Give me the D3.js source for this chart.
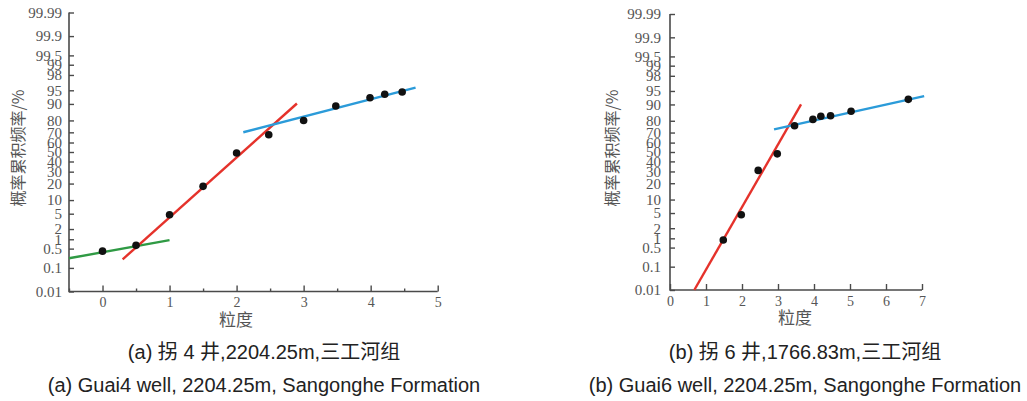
<!DOCTYPE html>
<html>
<head>
<meta charset="utf-8">
<script src="https://cdn.jsdelivr.net/npm/d3@7"></script>
<style>
  body { margin: 0; background: #fff; }
  svg { display: block; }
</style>
</head>
<body>
<div id="chart"></div>
<script>
// probability axis ticks (%)
const probTicks = [0.01, 0.1, 0.5, 1, 2, 5, 10, 20, 30, 40, 50, 60, 70, 80, 90, 95, 98, 99, 99.5, 99.9, 99.99];
const probLabels = ["0.01", "0.1", "0.5", "1", "2", "5", "10", "20", "30", "40", "50", "60", "70", "80", "90", "95", "98", "99", "99.5", "99.9", "99.99"];

// (a) Guai4 well
const grainA = [0, 0.5, 1, 1.5, 2, 2.48, 3, 3.48, 3.99, 4.21, 4.47];
const cumA = [0.41, 0.64, 4.7, 18, 49, 67.7, 80, 89, 92.6, 93.8, 94.5];
const greenA = { x: [-0.5, 1], p: [0.23, 0.94] };
const redA = { x: [0.3, 2.9], p: [0.21, 90.2] };
const blueA = { x: [2.1, 4.67], p: [70.1, 95.7] };
const xTicksA = [0, 1, 2, 3, 4, 5];
const xMinorA = [-0.5, 0.5, 1.5, 2.5, 3.5, 4.5];

// (b) Guai6 well
const grainB = [1.48, 1.98, 2.45, 2.98, 3.46, 3.97, 4.19, 4.46, 5.03, 6.62];
const cumB = [0.89, 4.55, 31, 48, 76, 81, 83.2, 83.6, 86.4, 92.2];
const redB = { x: [0.675, 3.64], p: [0.01, 90] };
const blueB = { x: [2.89, 7.06], p: [72.9, 93.4] };
const xTicksB = [0, 1, 2, 3, 4, 5, 6, 7];

const captionsCn = ["(a) 拐 4 井,2204.25m,三工河组", "(b) 拐 6 井,1766.83m,三工河组"];
const captionsEn = ["(a) Guai4 well, 2204.25m, Sangonghe Formation", "(b) Guai6 well, 2204.25m, Sangonghe Formation"];

// inverse normal CDF (Acklam)
function probit(p) {
  const a = [-3.969683028665376e+01, 2.209460984245205e+02, -2.759285104469687e+02, 1.383577518672690e+02, -3.066479806614716e+01, 2.506628277459239e+00];
  const b = [-5.447609879822406e+01, 1.615858368580409e+02, -1.556989798598866e+02, 6.680131188771972e+01, -1.328068155288572e+01];
  const c = [-7.784894002430293e-03, -3.223964580411365e-01, -2.400758277161838e+00, -2.549732539343734e+00, 4.374664141464968e+00, 2.938163982698783e+00];
  const d = [7.784695709041462e-03, 3.224671290700398e-01, 2.445134137142996e+00, 3.754408661907416e+00];
  const pl = 0.02425;
  if (p < pl) {
    const q = Math.sqrt(-2 * Math.log(p));
    return (((((c[0]*q+c[1])*q+c[2])*q+c[3])*q+c[4])*q+c[5]) / ((((d[0]*q+d[1])*q+d[2])*q+d[3])*q+1);
  }
  if (p > 1 - pl) {
    const q = Math.sqrt(-2 * Math.log(1 - p));
    return -(((((c[0]*q+c[1])*q+c[2])*q+c[3])*q+c[4])*q+c[5]) / ((((d[0]*q+d[1])*q+d[2])*q+d[3])*q+1);
  }
  const q = p - 0.5, r = q * q;
  return (((((a[0]*r+a[1])*r+a[2])*r+a[3])*r+a[4])*r+a[5])*q / (((((b[0]*r+b[1])*r+b[2])*r+b[3])*r+b[4])*r+1);
}
const z = pct => probit(pct / 100);
const zMax = z(99.99);

const svg = d3.select("#chart").append("svg")
  .attr("width", 1027)
  .attr("height", 401);

const tickFont = "'Liberation Serif', 'DejaVu Serif', serif";
const axisColor = "#4a4a4a";

function drawPanel(cfg) {
  const x = d3.scaleLinear().domain(cfg.xDomain).range([cfg.left, cfg.right]);
  const y = d3.scaleLinear().domain([-zMax, zMax]).range([cfg.bottom, cfg.top]);
  const g = svg.append("g");

  // y axis (probability)
  const yAxis = g.append("g")
    .attr("transform", `translate(${cfg.left},0)`)
    .call(d3.axisLeft(y)
      .tickValues(probTicks.map(z))
      .tickFormat((d, i) => probLabels[i])
      .tickSizeInner(-5)
      .tickSizeOuter(0)
      .tickPadding(cfg.yPad))
    .attr("font-family", tickFont)
    .attr("font-size", 15);
  yAxis.select(".domain").remove();
  yAxis.selectAll("line").attr("stroke", axisColor).attr("stroke-width", 1.4);
  yAxis.selectAll("text").attr("fill", "#555");

  // minor x ticks
  if (cfg.xMinor) {
    const mAxis = g.append("g")
      .attr("transform", `translate(0,${cfg.bottom})`)
      .call(d3.axisBottom(x).tickValues(cfg.xMinor).tickSize(-3).tickFormat(""));
    mAxis.select(".domain").remove();
    mAxis.selectAll("line").attr("stroke", axisColor).attr("stroke-width", 1.4);
  }

  // x axis
  const xAxis = g.append("g")
    .attr("transform", `translate(0,${cfg.bottom})`)
    .call(d3.axisBottom(x)
      .tickValues(cfg.xTicks)
      .tickFormat(d3.format("d"))
      .tickSizeInner(-6)
      .tickSizeOuter(0)
      .tickPadding(6))
    .attr("font-family", tickFont)
    .attr("font-size", 14);
  xAxis.select(".domain").remove();
  xAxis.selectAll("line").attr("stroke", axisColor).attr("stroke-width", 1.4);
  xAxis.selectAll("text").attr("fill", "#555");

  // frame lines (left and bottom)
  g.append("path")
    .attr("d", `M${cfg.left},${cfg.top}V${cfg.bottom}H${cfg.right}`)
    .attr("fill", "none")
    .attr("stroke", axisColor)
    .attr("stroke-width", 1.6);

  // fitted segments
  const line = d3.line().x(d => x(d[0])).y(d => y(z(d[1])));
  cfg.fits.forEach(f => {
    g.append("path")
      .datum(f.seg.x.map((v, i) => [v, f.seg.p[i]]))
      .attr("d", line)
      .attr("fill", "none")
      .attr("stroke", f.color)
      .attr("stroke-width", 2.4);
  });

  // points
  g.selectAll("circle.pt")
    .data(cfg.grain.map((v, i) => [v, cfg.cum[i]]))
    .enter().append("circle")
    .attr("class", "pt")
    .attr("cx", d => x(d[0]))
    .attr("cy", d => y(z(d[1])))
    .attr("r", 3.8)
    .attr("fill", "#111");

  // axis titles
  g.append("text")
    .attr("transform", `translate(${cfg.yTitleX},${(cfg.top + cfg.bottom) / 2 - 4}) rotate(-90)`)
    .attr("text-anchor", "middle")
    .attr("dominant-baseline", "central")
    .attr("font-family", "'Noto Sans CJK SC', sans-serif")
    .attr("font-size", 16)
    .attr("fill", "#555")
    .text("概率累积频率/%");

  g.append("text")
    .attr("x", cfg.xTitleX)
    .attr("y", cfg.bottom + 34)
    .attr("text-anchor", "middle")
    .attr("font-family", "'Noto Sans CJK SC', sans-serif")
    .attr("font-size", 17)
    .attr("fill", "#555")
    .text("粒度");

  // captions
  g.append("text")
    .attr("x", cfg.capX)
    .attr("y", 359)
    .attr("text-anchor", "middle")
    .attr("font-family", "'Liberation Sans', 'Noto Sans CJK SC', sans-serif")
    .attr("font-size", 20)
    .attr("fill", "#222")
    .text(cfg.capCn);

  g.append("text")
    .attr("x", cfg.capX)
    .attr("y", 392)
    .attr("text-anchor", "middle")
    .attr("font-family", "'Liberation Sans', sans-serif")
    .attr("font-size", 20)
    .attr("fill", "#222")
    .text(cfg.capEn);
}

drawPanel({
  left: 69, right: 437.7, top: 12.5, bottom: 291.5, yPad: 7,
  xDomain: [-0.5, 5], xTicks: xTicksA, xMinor: xMinorA,
  grain: grainA, cum: cumA,
  fits: [{ seg: greenA, color: "#2f9a44" }, { seg: redA, color: "#e5322b" }, { seg: blueA, color: "#2b9bd9" }],
  yTitleX: 17, xTitleX: 236, capX: 264,
  capCn: captionsCn[0], capEn: captionsEn[0]
});

drawPanel({
  left: 670, right: 922, top: 14, bottom: 290, yPad: 9,
  xDomain: [0, 7], xTicks: xTicksB, xMinor: null,
  grain: grainB, cum: cumB,
  fits: [{ seg: redB, color: "#e5322b" }, { seg: blueB, color: "#2b9bd9" }],
  yTitleX: 611, xTitleX: 795, capX: 805,
  capCn: captionsCn[1], capEn: captionsEn[1]
});
</script>
</body>
</html>
